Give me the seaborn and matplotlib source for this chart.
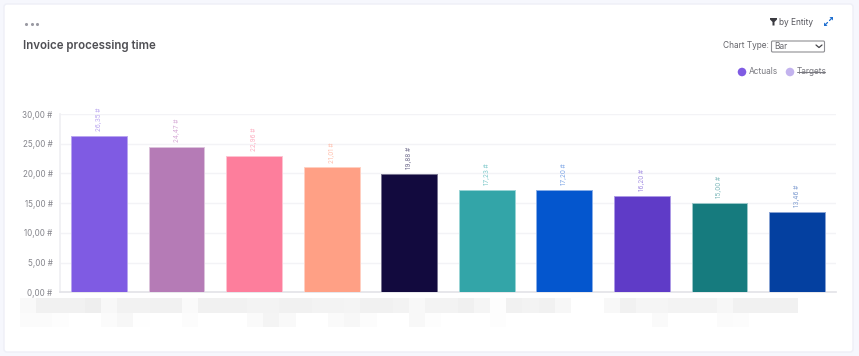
import numpy as np
import pandas as pd
import matplotlib
matplotlib.use('Agg')
import matplotlib.pyplot as plt
import seaborn as sns
from matplotlib.patches import FancyBboxPatch, Polygon

# Values
entities = ['E1', 'E2', 'E3', 'E4', 'E5', 'E6', 'E7', 'E8', 'E9', 'E10']
actuals = [26.35, 24.47, 22.96, 21.01, 19.88, 17.23, 17.20, 16.20, 15.00, 13.46]
value_labels = ['26,35 #', '24,47 #', '22,96 #', '21,01 #', '19,88 #',
                '17,23 #', '17,20 #', '16,20 #', '15,00 #', '13,46 #']
y_ticks = [0, 5, 10, 15, 20, 25, 30]
y_tick_labels = ['0,00 #', '5,00 #', '10,00 #', '15,00 #', '20,00 #', '25,00 #', '30,00 #']
bar_colors = ['#7F5BE3', '#B57BB6', '#FD7E9C', '#FFA085', '#120A3E',
              '#33A5A8', '#0456CE', '#5F3BC7', '#167B7E', '#0440A0']
label_colors = ['#B9A5F0', '#D6AAD6', '#FDB0C2', '#FFBFAC', '#6F6B8C',
                '#7CC8CA', '#7DA6E6', '#A48FE3', '#7DB8BA', '#7D9BD0']
edge_colors = ['#B9A5F0', '#DCC4DC', '#FDC4D2', '#FFD0C2', '#77738F',
               '#9AD5D6', '#88AEE8', '#AC99E6', '#9AC8C9', '#88A3D4']

# Redacted category labels, a mosaic of greys (255 = white)
mosaic_top = [249, 241, 241, 241, 238, 248, 242, 242, 241, 241, 250, 241, 241, 241, 243, 243,
              241, 241, 243, 243, 244, 241, 241, 243, 248, 243, 243, 240, 245, 253, 241, 243,
              241, 247, 255, 255, 248, 241, 245, 245, 243, 243, 243, 247, 241, 241, 241, 241]
mosaic_bottom = [251, 251, 253, 255, 255, 251, 247, 254, 255, 255, 252, 255, 255, 255, 250, 244,
                 249, 255, 255, 250, 247, 252, 255, 255, 248, 253, 255, 255, 255, 253, 255, 255,
                 255, 255, 255, 255, 255, 255, 255, 250, 255, 255, 255, 251, 252, 255, 255, 255]

W, H = 859, 356
data = pd.DataFrame({'entity': entities, 'value': actuals})

sns.set_theme(style='white')
plt.rcParams['font.family'] = ['Inter', 'DejaVu Sans']

fig = plt.figure(figsize=(W / 100, H / 100), dpi=100, facecolor='#F6F7FD')

# full figure layer in pixel coordinates for the card and its controls
bg = fig.add_axes([0, 0, 1, 1], zorder=0)
bg.set_xlim(0, W)
bg.set_ylim(H, 0)
bg.axis('off')
bg.add_patch(FancyBboxPatch((4, 4), 849, 348, boxstyle='round,pad=0,rounding_size=3',
                            fc='white', ec='#EEEFF7', lw=1))
bg.scatter([26, 32, 37], [24, 24, 24], s=5, color='#9A9AA3', lw=0)
bg.text(23, 46, 'Invoice processing time', fontsize=8.3, fontweight='semibold',
        color='#4F4F54', va='center')

# filter icon, expand icon, chart type selector
bg.add_patch(Polygon([(770, 18), (777, 18), (777, 19.5), (774.5, 22), (774.5, 25.5),
                      (772.5, 25.5), (772.5, 22), (770, 19.5)], fc='#3A3A40', lw=0))
bg.text(779, 22.5, 'by Entity', fontsize=6, color='#55555C', va='center')
bg.plot([825, 827.5], [25, 22.5], color='#1F6FD0', lw=0.9)
bg.plot([829.5, 832], [20.5, 18], color='#1F6FD0', lw=0.9)
bg.add_patch(Polygon([(824, 26), (824, 22.5), (827.5, 26)], fc='#1F6FD0', lw=0))
bg.add_patch(Polygon([(833, 17), (829.5, 17), (833, 20.5)], fc='#1F6FD0', lw=0))
bg.text(723, 46, 'Chart Type:', fontsize=6, color='#66666C', va='center')
bg.add_patch(FancyBboxPatch((771.5, 41), 53, 11, boxstyle='round,pad=0,rounding_size=1.2',
                            fc='white', ec='#8E8E92', lw=0.8))
bg.text(774.5, 46.4, 'Bar', fontsize=6, color='#66666C', va='center')
bg.plot([816, 819, 822], [45, 47.5, 45], color='#444448', lw=0.9)

# legend
bg.scatter([742, 790], [72, 72], s=38, color=['#7F5BE3', '#C3B3EE'], lw=0)
bg.text(749, 72, 'Actuals', fontsize=6, color='#77777E', va='center')
bg.text(797, 72, 'Targets', fontsize=6, color='#77777E', va='center')
bg.plot([797, 825], [72, 72], color='#77777E', lw=0.7)

# bars
ax = fig.add_axes([60.25 / W, 1 - 292.3 / H, 775.5 / W, 178.3 / H], zorder=1)
ax.patch.set_alpha(0)
sns.barplot(data=data, x='entity', y='value', hue='entity', palette=bar_colors,
            width=0.72, saturation=1, legend=False, ax=ax, zorder=3)
ax.set_xlim(-0.5, 9.5)
ax.set_ylim(0, 30)
ax.set_xlabel('')
ax.set_ylabel('')
ax.set_xticks([])
ax.set_yticks(y_ticks)
ax.set_yticklabels(y_tick_labels, fontsize=5.8, color='#85858C')
ax.tick_params(axis='y', length=0, pad=5.5)
ax.grid(axis='y', color='#F3F3F6', lw=1)
ax.set_axisbelow(True)
for side in ['top', 'right']:
    ax.spines[side].set_visible(False)
ax.spines['left'].set_color('#F0F0F3')
ax.spines['bottom'].set_color('#E4E4E9')

for cont, txt, lc, ec in zip(ax.containers, value_labels, label_colors, edge_colors):
    for b in cont:
        b.set_edgecolor(ec)
        b.set_linewidth(0.7)
    ax.bar_label(cont, labels=[txt], rotation=90, padding=3.5, fontsize=4.6, color=lc, clip_on=False)

# redacted labels below the axis
mos = fig.add_axes([20 / W, 1 - 327 / H, 778 / W, 29 / H], zorder=1)
sns.heatmap(np.array([mosaic_top, mosaic_bottom]), vmin=0, vmax=255, cmap='gray', cbar=False,
            xticklabels=False, yticklabels=False, linewidths=0, ax=mos)

fig.savefig('out.png', dpi=100, facecolor=fig.get_facecolor())
